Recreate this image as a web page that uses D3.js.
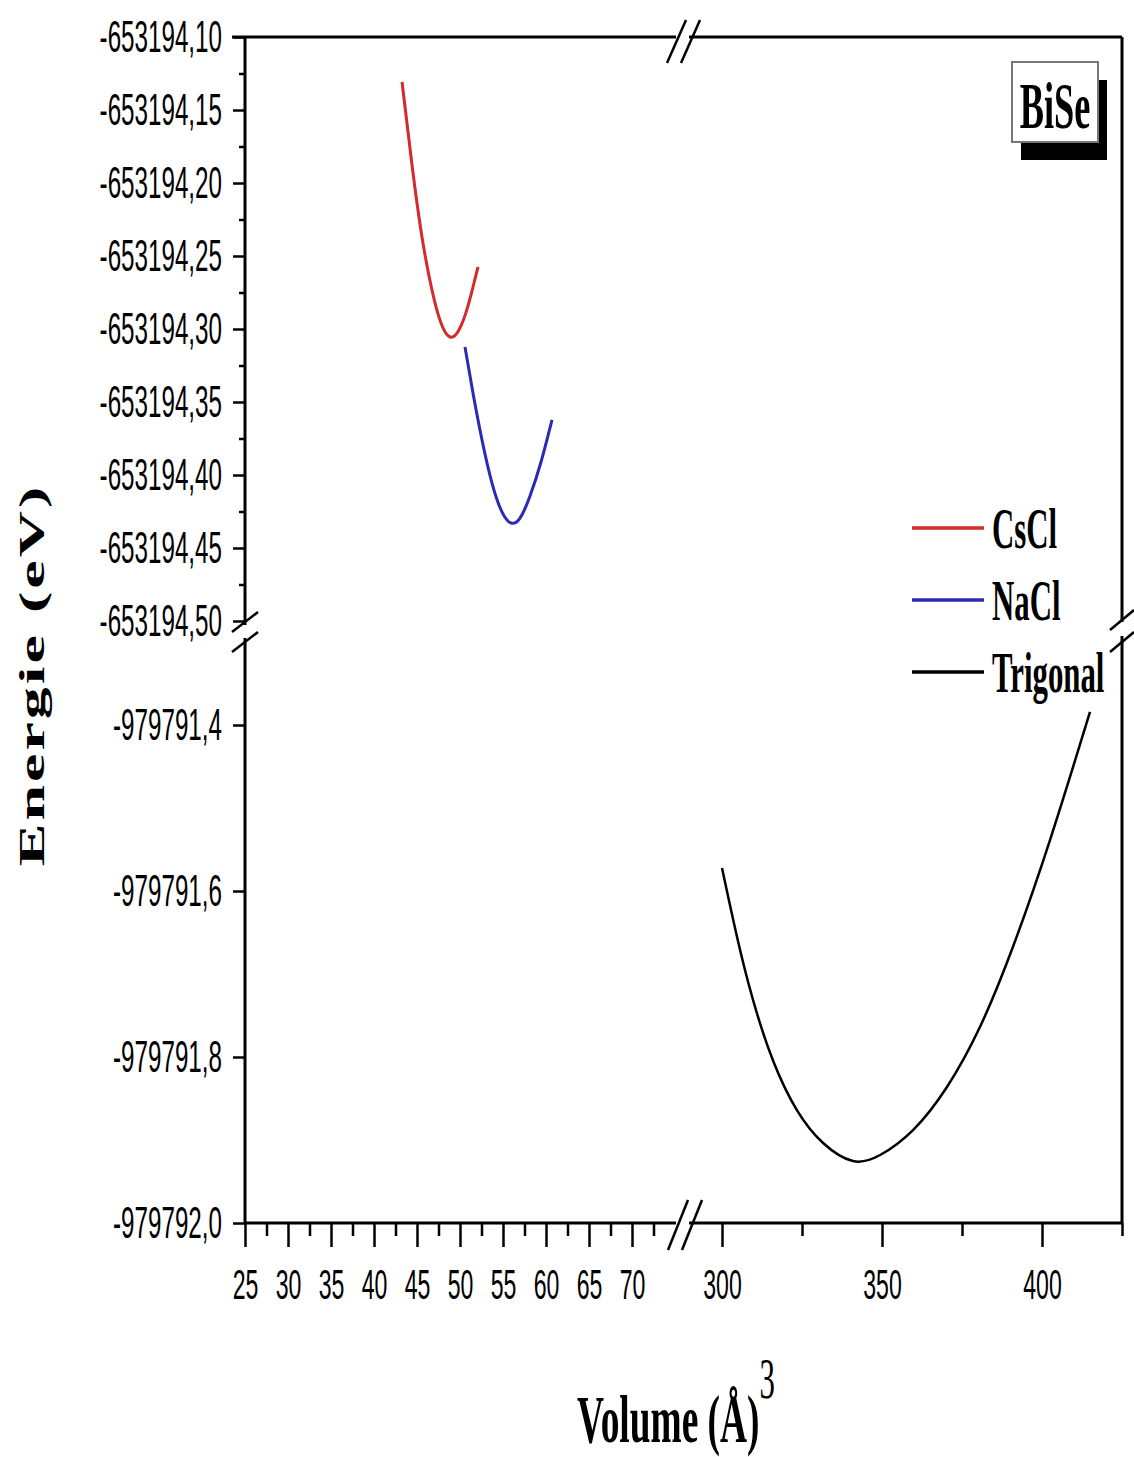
<!DOCTYPE html>
<html>
<head>
<meta charset="utf-8">
<script src="https://cdn.jsdelivr.net/npm/d3@7"></script>
<style>
  body { margin: 0; background: #fff; }
  svg { display: block; }
</style>
</head>
<body>
<div id="chart"></div>
<script>
// Données (volume en Å^3, énergie en eV)
const volCsCl = [43.26, 44.42, 45.58, 46.74, 47.79, 48.84, 49.88, 50.93, 52.09];
const eCsCl = [-653194.1308, -653194.1877, -653194.2370, -653194.2733, -653194.2959,
               -653194.3055, -653194.3007, -653194.2842, -653194.2575];

const volNaCl = [50.58, 51.51, 52.56, 53.72, 54.88, 55.93, 56.98, 58.14, 59.42, 60.70];
const eNaCl = [-653194.3123, -653194.3438, -653194.3760, -653194.4055, -653194.4253,
               -653194.4329, -653194.4295, -653194.4144, -653194.3911, -653194.3623];

const volTrig = [300.0, 304.7, 309.7, 316.0, 323.4, 331.6, 340.9, 349.4, 359.7, 370.3, 380.6, 390.9, 402.5, 415.0];
const eTrig = [-979791.5723, -979791.6554, -979791.7313, -979791.8048, -979791.8639, -979791.9036, -979791.9253,
               -979791.9181, -979791.8880, -979791.8361, -979791.7639, -979791.6675, -979791.5386, -979791.3843];

const seriesNames = ["CsCl", "NaCl", "Trigonal"];
const seriesColors = ["#d42a2a", "#2a2ab4", "#000000"];

// Graduations
const xTicksLeft = [25, 30, 35, 40, 45, 50, 55, 60, 65, 70];
const xMinorLeft = [27.5, 32.5, 37.5, 42.5, 47.5, 52.5, 57.5, 62.5, 67.5, 72.5];
const xTicksRight = [300, 350, 400];
const xMinorRight = [325, 375, 425];
const yTicksTop = [-653194.10, -653194.15, -653194.20, -653194.25, -653194.30, -653194.35, -653194.40, -653194.45, -653194.50];
const yMinorTop = [-653194.125, -653194.175, -653194.225, -653194.275, -653194.325, -653194.375, -653194.425, -653194.475];
const yTicksBottom = [-979791.4, -979791.6, -979791.8, -979792.0];

const W = 1134, H = 1457;
const pLeft = 245, pRight = 1122, pTop = 37, pBottom = 1223;
const sx = 0.55; // texte comprimé horizontalement comme dans l'original

const svg = d3.select("#chart").append("svg")
    .attr("width", W)
    .attr("height", H);

// Echelles (axes coupés)
const xL = d3.scaleLinear().domain([25, 75]).range([pLeft, 675]);
const xR = d3.scaleLinear().domain([290, 425]).range([690, pRight]);
const yT = d3.scaleLinear().domain([-653194.50, -653194.10]).range([621, pTop]);
const yB = d3.scaleLinear().domain([-979792.0, -979791.3]).range([pBottom, 642]);

const fmt2 = d => d3.format(".2f")(d).replace("\u2212", "-").replace(".", ",");
const fmt1 = d => d3.format(".1f")(d).replace("\u2212", "-").replace(".", ",");

// Cadre
const frame = svg.append("g")
    .attr("stroke", "#000")
    .attr("stroke-width", 3)
    .attr("fill", "none");

frame.append("line").attr("x1", pLeft).attr("x2", pLeft).attr("y1", pTop).attr("y2", 625);
frame.append("line").attr("x1", pLeft).attr("x2", pLeft).attr("y1", 638).attr("y2", pBottom);
frame.append("line").attr("x1", pRight).attr("x2", pRight).attr("y1", pTop).attr("y2", 622);
frame.append("line").attr("x1", pRight).attr("x2", pRight).attr("y1", 636).attr("y2", pBottom);
frame.append("line").attr("x1", 232).attr("x2", 676).attr("y1", pTop).attr("y2", pTop);
frame.append("line").attr("x1", 689).attr("x2", pRight).attr("y1", pTop).attr("y2", pTop);
frame.append("line").attr("x1", pLeft).attr("x2", 676).attr("y1", pBottom).attr("y2", pBottom);
frame.append("line").attr("x1", 689).attr("x2", pRight).attr("y1", pBottom).attr("y2", pBottom);

// Marques de coupure
const breaks = svg.append("g").attr("stroke", "#000").attr("stroke-width", 2.5);
[[667, 63, 686, 20], [681, 63, 700, 20],
 [668, 1250, 688, 1200], [682, 1250, 702, 1200],
 [232, 632, 258, 612], [232, 652, 258, 632],
 [1110, 630, 1134, 610], [1110, 652, 1134, 632]].forEach(s => {
    breaks.append("line").attr("x1", s[0]).attr("y1", s[1]).attr("x2", s[2]).attr("y2", s[3]);
});

// Axes
function styleAxis(g) {
    g.select(".domain").remove();
    g.selectAll("line").attr("stroke", "#000").attr("stroke-width", 2.5);
}

const axYTop = svg.append("g")
    .attr("transform", `translate(${pLeft},0)`)
    .call(d3.axisLeft(yT).tickValues(yTicksTop).tickFormat(fmt2).tickSize(12).tickPadding(11));
styleAxis(axYTop);
svg.append("g")
    .attr("transform", `translate(${pLeft},0)`)
    .call(d3.axisLeft(yT).tickValues(yMinorTop).tickFormat("").tickSize(6))
    .call(styleAxis);

const axYBot = svg.append("g")
    .attr("transform", `translate(${pLeft},0)`)
    .call(d3.axisLeft(yB).tickValues(yTicksBottom).tickFormat(fmt1).tickSize(12).tickPadding(11));
styleAxis(axYBot);

const axXL = svg.append("g")
    .attr("transform", `translate(0,${pBottom})`)
    .call(d3.axisBottom(xL).tickValues(xTicksLeft).tickSize(24).tickPadding(22));
styleAxis(axXL);
svg.append("g")
    .attr("transform", `translate(0,${pBottom})`)
    .call(d3.axisBottom(xL).tickValues(xMinorLeft).tickFormat("").tickSize(13))
    .call(styleAxis);

const axXR = svg.append("g")
    .attr("transform", `translate(0,${pBottom})`)
    .call(d3.axisBottom(xR).tickValues(xTicksRight).tickSize(24).tickPadding(22));
styleAxis(axXR);
svg.append("g")
    .attr("transform", `translate(0,${pBottom})`)
    .call(d3.axisBottom(xR).tickValues(xMinorRight).tickFormat("").tickSize(13))
    .call(styleAxis);

// Texte des graduations : condensé horizontalement
[axYTop, axYBot].forEach(g => {
    g.selectAll("text")
        .attr("font-family", "'Liberation Sans', Arial, sans-serif")
        .attr("font-size", 44)
        .attr("fill", "#000")
        .attr("transform", function() {
            const x = +d3.select(this).attr("x");
            d3.select(this).attr("x", x / sx);
            return `scale(${sx},1)`;
        });
});
[axXL, axXR].forEach(g => {
    g.selectAll("text")
        .attr("font-family", "'Liberation Sans', Arial, sans-serif")
        .attr("font-size", 42)
        .attr("fill", "#000")
        .attr("transform", `scale(${sx},1)`);
});

// Courbes
const lineTop = (xs, ys, xScale) => d3.line()
    .x(i => xScale(xs[i]))
    .y(i => yT(ys[i]))
    .curve(d3.curveNatural)(d3.range(xs.length));

svg.append("path")
    .attr("d", lineTop(volCsCl, eCsCl, xL))
    .attr("fill", "none")
    .attr("stroke", seriesColors[0])
    .attr("stroke-width", 3);

svg.append("path")
    .attr("d", lineTop(volNaCl, eNaCl, xL))
    .attr("fill", "none")
    .attr("stroke", seriesColors[1])
    .attr("stroke-width", 3);

svg.append("path")
    .attr("d", d3.line()
        .x(i => xR(volTrig[i]))
        .y(i => yB(eTrig[i]))
        .curve(d3.curveNatural)(d3.range(volTrig.length)))
    .attr("fill", "none")
    .attr("stroke", seriesColors[2])
    .attr("stroke-width", 2.5);

// Légende
const legend = svg.append("g");
seriesNames.forEach((name, i) => {
    const y = 528 + i * 72;
    legend.append("line")
        .attr("x1", 912).attr("x2", 984)
        .attr("y1", y).attr("y2", y)
        .attr("stroke", seriesColors[i])
        .attr("stroke-width", 3.5);
    legend.append("text")
        .attr("transform", `translate(992,${y + 20}) scale(${sx},1)`)
        .attr("font-family", "'Liberation Serif', 'Times New Roman', serif")
        .attr("font-weight", "bold")
        .attr("font-size", 56)
        .text(name);
});

// Etiquette BiSe
svg.append("rect")
    .attr("x", 1021).attr("y", 80)
    .attr("width", 86).attr("height", 80)
    .attr("fill", "#000");
svg.append("rect")
    .attr("x", 1012).attr("y", 62)
    .attr("width", 86).attr("height", 80)
    .attr("fill", "#fff")
    .attr("stroke", "#777")
    .attr("stroke-width", 2);
svg.append("text")
    .attr("transform", `translate(1055,128) scale(${sx},1)`)
    .attr("text-anchor", "middle")
    .attr("font-family", "'Liberation Serif', 'Times New Roman', serif")
    .attr("font-weight", "bold")
    .attr("font-size", 66)
    .text("BiSe");

// Titres des axes
const xTitle = svg.append("text")
    .attr("transform", `translate(676,1442) scale(${sx},1)`)
    .attr("text-anchor", "middle")
    .attr("font-family", "'Liberation Serif', 'Times New Roman', serif")
    .attr("font-weight", "bold")
    .attr("font-size", 68);
xTitle.append("tspan").text("Volume (Å)");
xTitle.append("tspan")
    .attr("font-weight", "normal")
    .attr("font-size", 56)
    .attr("dy", -44)
    .text("3");

svg.append("text")
    .attr("transform", `translate(44,675) rotate(-90) scale(1,${sx})`)
    .attr("text-anchor", "middle")
    .attr("font-family", "'Liberation Serif', 'Times New Roman', serif")
    .attr("font-weight", "bold")
    .attr("font-size", 64)
    .attr("letter-spacing", 3)
    .text("Energie (eV)");
</script>
</body>
</html>
